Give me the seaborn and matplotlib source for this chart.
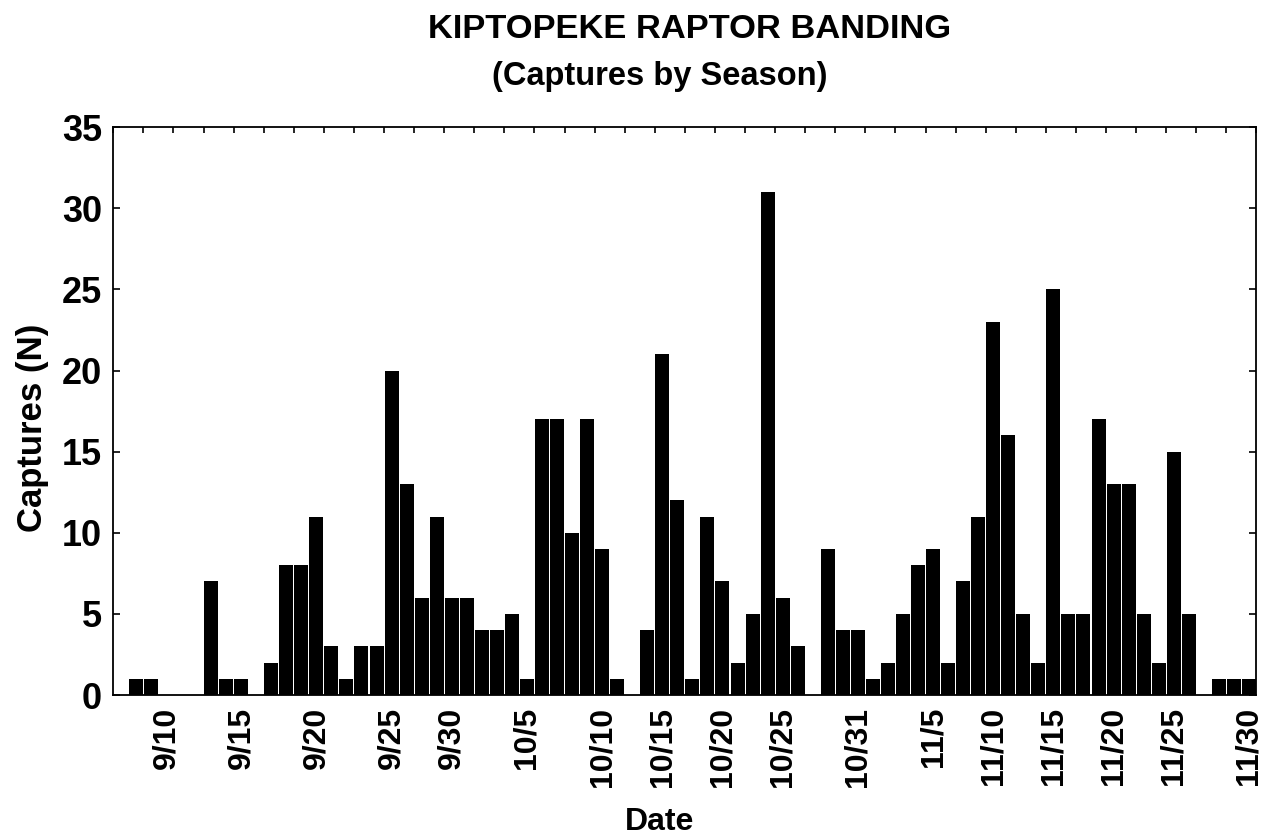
import matplotlib
matplotlib.use("Agg")
import matplotlib.pyplot as plt
from matplotlib.ticker import FixedLocator
import seaborn as sns
import numpy as np

# daily captures, one bar per banding day (left to right)
captures = [0, 1, 1, 0, 0, 0, 7, 1, 1, 0,
            2, 8, 8, 11, 3, 1, 3, 3, 20, 13,
            6, 11, 6, 6, 4, 4, 5, 1, 17, 17,
            10, 17, 9, 1, 0, 4, 21, 12, 1, 11,
            7, 2, 5, 31, 6, 3, 0, 9, 4, 4,
            1, 2, 5, 8, 9, 2, 7, 11, 23, 16,
            5, 2, 25, 5, 5, 17, 13, 13, 5, 2,
            15, 5, 0, 1, 1, 1]
day_index = list(range(len(captures)))

# bars that carry a date label
tick_bars = [3, 8, 13, 18, 22, 27, 32, 36, 40, 44, 49, 54, 58, 62, 66, 70, 75]
tick_labels = ['9/10', '9/15', '9/20', '9/25', '9/30', '10/5', '10/10', '10/15',
               '10/20', '10/25', '10/31', '11/5', '11/10', '11/15', '11/20',
               '11/25', '11/30']

sns.set_style('white')
plt.rcParams['font.family'] = ['Liberation Sans', 'DejaVu Sans']
plt.rcParams['font.weight'] = 'bold'
plt.rcParams['axes.labelweight'] = 'bold'
plt.rcParams['text.color'] = 'black'
plt.rcParams['axes.labelcolor'] = 'black'
plt.rcParams['xtick.color'] = 'black'
plt.rcParams['ytick.color'] = 'black'

fig = plt.figure(figsize=(12.73, 8.4), dpi=100)
ax = fig.add_axes([0.089, 0.1726, 0.898, 0.676])

sns.barplot(x=day_index, y=captures, color='black', saturation=1,
            width=0.93, linewidth=0, ax=ax)

ax.set_xlim(-0.5, len(captures) - 0.5)
ax.set_ylim(0, 35)
ax.set_yticks(range(0, 36, 5))
ax.set_xticks(tick_bars)
ax.set_xticklabels(tick_labels, rotation=90, va='top', ha='center')
ax.xaxis.set_minor_locator(FixedLocator(np.arange(-0.5, len(captures), 2)))

ax.tick_params(axis='x', which='major', bottom=True, top=False, length=0,
               pad=8.5, labelsize=23, labelcolor='black')
ax.tick_params(axis='x', which='minor', bottom=False, top=True,
               direction='in', length=4.5, width=1.2, color='black')
ax.tick_params(axis='y', which='major', left=True, right=True,
               direction='in', length=5, width=1.2, pad=8, labelsize=26,
               color='black', labelcolor='black')

for s in ax.spines.values():
    s.set_visible(True)
    s.set_color('black')
    s.set_linewidth(1.3)

ax.set_ylabel('Captures (N)', fontsize=25, va='center', color='black')
ax.yaxis.set_label_coords(-0.071, 0.47)
ax.set_xlabel('Date', fontsize=23, va='center', color='black')
ax.xaxis.set_label_coords(0.478, -0.2236)

fig.text(0.542, 1 - 30 / 840, 'KIPTOPEKE RAPTOR BANDING', color='black',
         ha='center', va='center', fontsize=24.8, fontweight='bold')
fig.text(0.518, 1 - 76 / 840, '(Captures by Season)', color='black',
         ha='center', va='center', fontsize=23.5, fontweight='bold')

fig.savefig('out.png', dpi=100)
